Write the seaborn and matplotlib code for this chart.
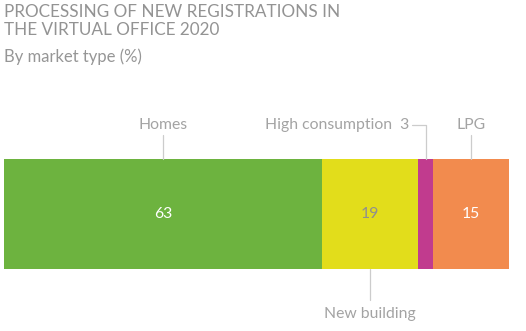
import matplotlib
matplotlib.use("Agg")
import matplotlib.pyplot as plt
import matplotlib.transforms as mtransforms
import seaborn as sns

categories = ["Homes", "New building", "High consumption", "LPG"]
values = [63, 19, 3, 15]
colors = ["#6db33f", "#e2dd1b", "#c13b8e", "#f28b4e"]
value_colors = ["#ffffff", "#8f8f8f", "#ffffff", "#ffffff"]

title = "PROCESSING OF NEW REGISTRATIONS IN\nTHE VIRTUAL OFFICE 2020"
subtitle = "By market type (%)"

sns.set_style("white")
plt.rcParams["font.family"] = ["Lato", "DejaVu Sans"]

W, H = 526, 331
fig = plt.figure(figsize=(W / 100, H / 100), dpi=100)
ax = fig.add_axes([4 / W, (H - 269) / H, 505 / W, 110 / H])

cum = []
s = 0
for v in values:
    s += v
    cum.append(s)

# draw cumulative bars from largest to smallest so they stack
for i in reversed(range(len(values))):
    sns.barplot(x=[cum[i]], y=[0], orient="h", color=colors[i], width=1.0,
                ax=ax, linewidth=0, saturation=1)

ax.set_xlim(0, 100)
ax.set_ylim(0.5, -0.5)
ax.axis("off")

trans = mtransforms.blended_transform_factory(ax.transData, ax.transAxes)
lc = "#cccccc"
tc = "#a3a3a3"
fs = 11.3
fw = "normal"

starts = [c - v for c, v in zip(cum, values)]
centers = [st + v / 2 for st, v in zip(starts, values)]

# values inside bar (skip small segment)
for i, v in enumerate(values):
    if v >= 5:
        ax.text(centers[i], 0.5, str(v), transform=trans, ha="center", va="center",
                color=value_colors[i], fontsize=fs, fontweight=fw)

def f(ypix):
    return (269 - ypix) / 110

# Homes
ax.plot([centers[0], centers[0]], [f(135), 1.0], transform=trans, color=lc, lw=0.9, clip_on=False)
ax.text(centers[0], f(125), categories[0], transform=trans, ha="center", va="center",
        color=tc, fontsize=fs, fontweight=fw)
# LPG
ax.plot([centers[3], centers[3]], [f(135), 1.0], transform=trans, color=lc, lw=0.9, clip_on=False)
ax.text(centers[3], f(125), categories[3], transform=trans, ha="center", va="center",
        color=tc, fontsize=fs, fontweight=fw)
# High consumption
xl = (412 - 4) / 5.05
ax.plot([xl, centers[2], centers[2]], [f(125), f(125), 1.0], transform=trans, color=lc, lw=0.9, clip_on=False)
ax.text(xl - 0.6, f(125), f"{categories[2]}  {values[2]}", transform=trans, ha="right", va="center",
        color=tc, fontsize=fs, fontweight=fw)
# New building
ax.plot([centers[1], centers[1]], [0.0, f(300)], transform=trans, color=lc, lw=0.9, clip_on=False)
ax.text(centers[1], f(314), categories[1], transform=trans, ha="center", va="center",
        color=tc, fontsize=fs, fontweight=fw)

fig.text(4 / W, 1 - 4 / H, title, ha="left", va="top", fontsize=12.3, color="#939393",
         fontweight="normal", linespacing=1.15)
fig.text(4 / W, 1 - 48 / H, subtitle, ha="left", va="top", fontsize=12, color="#969696",
         fontweight=fw)

fig.savefig("out.png", dpi=100)
